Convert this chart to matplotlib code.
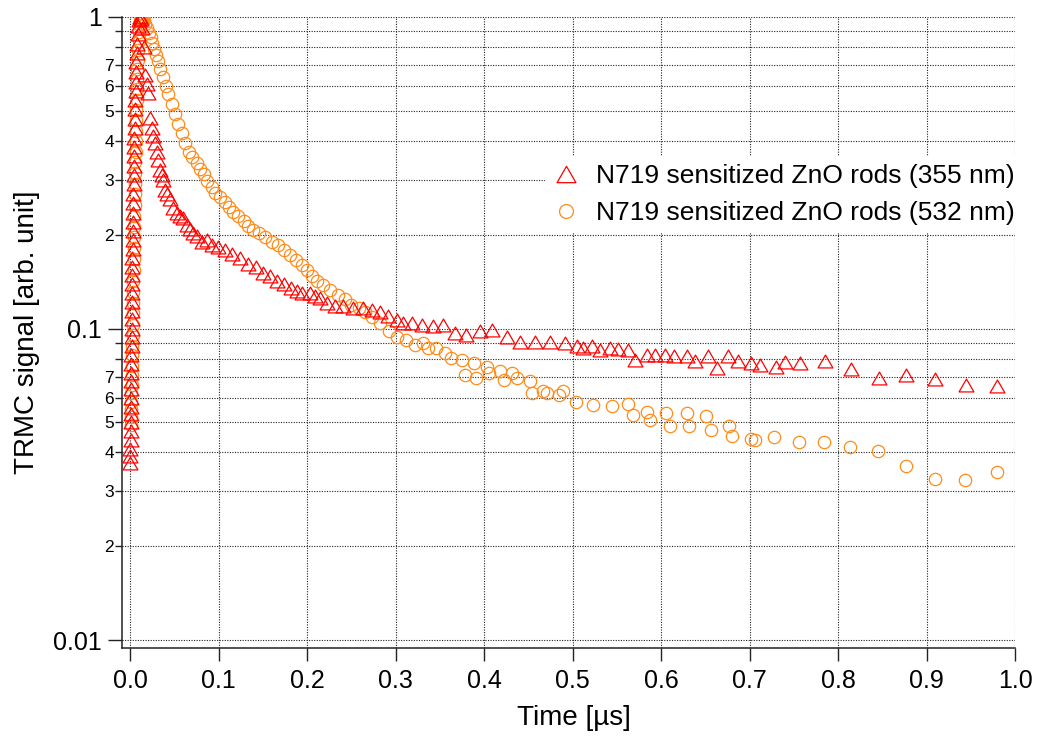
import numpy as np
import matplotlib
matplotlib.use('Agg')
import matplotlib.pyplot as plt
from matplotlib.path import Path
from matplotlib.lines import Line2D
from matplotlib.ticker import FixedLocator, FuncFormatter, NullFormatter

# ---------------- data ----------------
t_355 = [0.0000, 0.0001, 0.0002, 0.0003, 0.0004, 0.0005, 0.0006, 0.0007, 0.0008, 0.0009,
         0.0010, 0.0011, 0.0012, 0.0013, 0.0014, 0.0015, 0.0016, 0.0017, 0.0018, 0.0019,
         0.0020, 0.0021, 0.0022, 0.0023, 0.0024, 0.0025, 0.0026, 0.0027, 0.0028, 0.0030,
         0.0032, 0.0034, 0.0036, 0.0038, 0.0040, 0.0042, 0.0044, 0.0046, 0.0048, 0.0050,
         0.0053, 0.0056, 0.0059, 0.0062, 0.0065, 0.0069, 0.0073, 0.0078, 0.0084, 0.0091,
         0.0100, 0.0110, 0.0120, 0.0135, 0.0150, 0.0166, 0.0185, 0.0203, 0.0223, 0.0242,
         0.0260, 0.0279, 0.0298, 0.0316, 0.0336, 0.0355, 0.0373, 0.0392, 0.0420, 0.0449,
         0.0486, 0.0524, 0.0560, 0.0600, 0.0640, 0.0675, 0.0710, 0.0750, 0.0807, 0.0863,
         0.0920, 0.0990, 0.1070, 0.1150, 0.1240, 0.1330, 0.1420, 0.1500, 0.1580, 0.1660,
         0.1740, 0.1820, 0.1880, 0.1940, 0.2030, 0.2087, 0.2144, 0.2220, 0.2313, 0.2403,
         0.2517, 0.2630, 0.2728, 0.2821, 0.2912, 0.3010, 0.3081, 0.3180, 0.3293, 0.3420,
         0.3533, 0.3669, 0.3800, 0.3950, 0.4084, 0.4253, 0.4403, 0.4573, 0.4742, 0.4910,
         0.5044, 0.5120, 0.5214, 0.5307, 0.5420, 0.5514, 0.5627, 0.5703, 0.5835, 0.5930,
         0.6040, 0.6150, 0.6290, 0.6380, 0.6530, 0.6630, 0.6760, 0.6870, 0.7020, 0.7120,
         0.7300, 0.7400, 0.7570, 0.7850, 0.8150, 0.8460, 0.8770, 0.9100, 0.9450, 0.9800]
s_355 = [0.037, 0.039, 0.041, 0.044, 0.047, 0.050, 0.053, 0.056, 0.060, 0.064,
         0.068, 0.072, 0.077, 0.082, 0.088, 0.094, 0.100, 0.107, 0.114, 0.122,
         0.130, 0.139, 0.148, 0.158, 0.169, 0.180, 0.193, 0.206, 0.220, 0.235,
         0.252, 0.270, 0.290, 0.310, 0.333, 0.357, 0.383, 0.410, 0.440, 0.470,
         0.505, 0.540, 0.580, 0.620, 0.665, 0.715, 0.765, 0.820, 0.880, 0.935,
         0.975, 1.000, 0.985, 0.920, 0.800, 0.653, 0.610, 0.570, 0.474, 0.440,
         0.414, 0.394, 0.370, 0.348, 0.323, 0.310, 0.300, 0.279, 0.270, 0.260,
         0.244, 0.235, 0.229, 0.226, 0.215, 0.208, 0.203, 0.198, 0.190, 0.192,
         0.186, 0.182, 0.178, 0.173, 0.168, 0.161, 0.157, 0.151, 0.147, 0.142,
         0.139, 0.135, 0.132, 0.130, 0.130, 0.127, 0.1256, 0.121, 0.1177, 0.1177,
         0.1167, 0.1167, 0.1149, 0.1127, 0.1093, 0.1067, 0.1042, 0.1042, 0.1028, 0.1016,
         0.1028, 0.0967, 0.0955, 0.0979, 0.0991, 0.0939, 0.0902, 0.0902, 0.0902, 0.0898,
         0.0876, 0.0866, 0.0876, 0.0855, 0.0866, 0.0859, 0.0855, 0.0794, 0.0824, 0.0824,
         0.0824, 0.0814, 0.0818, 0.0784, 0.0818, 0.0748, 0.0818, 0.0784, 0.0777, 0.0766,
         0.0750, 0.0778, 0.0777, 0.0784, 0.0743, 0.0695, 0.0711, 0.0690, 0.0660, 0.0652]

t_532 = [0.0005, 0.0007, 0.0009, 0.0011, 0.0013, 0.0015, 0.0017, 0.0019, 0.0021, 0.0023,
         0.0025, 0.0027, 0.0029, 0.0031, 0.0033, 0.0035, 0.0037, 0.0039, 0.0041, 0.0043,
         0.0045, 0.0047, 0.0049, 0.0051, 0.0053, 0.0055, 0.0057, 0.0059, 0.0061, 0.0063,
         0.0065, 0.0068, 0.0071, 0.0074, 0.0077, 0.0080, 0.0084, 0.0088, 0.0093, 0.0099,
         0.0106, 0.0114, 0.0122, 0.0130, 0.0140, 0.0150, 0.0170, 0.0190, 0.0210, 0.0230,
         0.0250, 0.0270, 0.0290, 0.0310, 0.0340, 0.0370, 0.0400, 0.0430, 0.0470, 0.0500,
         0.0540, 0.0580, 0.0620, 0.0660, 0.0700, 0.0750, 0.0790, 0.0830, 0.0870, 0.0920,
         0.0960, 0.1010, 0.1070, 0.1110, 0.1160, 0.1220, 0.1280, 0.1330, 0.1390, 0.1450,
         0.1520, 0.1600, 0.1670, 0.1740, 0.1810, 0.1870, 0.1940, 0.2000, 0.2050, 0.2110,
         0.2180, 0.2260, 0.2350, 0.2430, 0.2500, 0.2580, 0.2650, 0.2730, 0.2820, 0.2920,
         0.3010, 0.3120, 0.3220, 0.3310, 0.3370, 0.3460, 0.3560, 0.3630, 0.3750, 0.3780,
         0.3880, 0.3910, 0.4030, 0.4060, 0.4180, 0.4220, 0.4310, 0.4370, 0.4520, 0.4540,
         0.4670, 0.4710, 0.4840, 0.4890, 0.5040, 0.5230, 0.5440, 0.5630, 0.5680, 0.5840,
         0.5870, 0.6060, 0.6100, 0.6290, 0.6320, 0.6510, 0.6560, 0.6770, 0.6800, 0.7020,
         0.7060, 0.7280, 0.7560, 0.7840, 0.8140, 0.8450, 0.8770, 0.9100, 0.9440, 0.9800]
s_532 = [0.049, 0.052, 0.055, 0.058, 0.062, 0.066, 0.071, 0.076, 0.082, 0.088,
         0.095, 0.103, 0.112, 0.121, 0.131, 0.142, 0.154, 0.167, 0.181, 0.196,
         0.212, 0.230, 0.249, 0.270, 0.292, 0.316, 0.342, 0.370, 0.400, 0.432,
         0.466, 0.503, 0.543, 0.586, 0.632, 0.680, 0.730, 0.785, 0.840, 0.895,
         0.945, 0.980, 1.000, 0.995, 0.985, 0.975, 0.950, 0.920, 0.890, 0.860,
         0.825, 0.790, 0.757, 0.720, 0.680, 0.640, 0.600, 0.565, 0.525, 0.490,
         0.455, 0.425, 0.395, 0.370, 0.355, 0.340, 0.325, 0.313, 0.298, 0.285,
         0.273, 0.264, 0.255, 0.246, 0.237, 0.229, 0.221, 0.214, 0.207, 0.202,
         0.197, 0.190, 0.185, 0.178, 0.172, 0.166, 0.160, 0.154, 0.147, 0.142,
         0.138, 0.133, 0.128, 0.124, 0.119, 0.116, 0.113, 0.109, 0.104, 0.098,
         0.094, 0.092, 0.0887, 0.0898, 0.0866, 0.0866, 0.0834, 0.0804, 0.0794, 0.0711,
         0.0775, 0.0694, 0.0755, 0.0720, 0.0728, 0.0685, 0.0720, 0.0694, 0.0676, 0.0621,
         0.0628, 0.0621, 0.0613, 0.0628, 0.0583, 0.0569, 0.0562, 0.0574, 0.0529, 0.0538,
         0.0507, 0.0535, 0.0485, 0.0535, 0.0485, 0.0522, 0.0473, 0.0485, 0.0453, 0.0442,
         0.0437, 0.0450, 0.0431, 0.0433, 0.0415, 0.0403, 0.0361, 0.0329, 0.0327, 0.0346]

label_355 = 'N719 sensitized ZnO rods (355 nm)'
label_532 = 'N719 sensitized ZnO rods (532 nm)'
x_ticks = [0.0, 0.1, 0.2, 0.3, 0.4, 0.5, 0.6, 0.7, 0.8, 0.9, 1.0]
x_tick_labels = ['0.0', '0.1', '0.2', '0.3', '0.4', '0.5', '0.6', '0.7', '0.8', '0.9', '1.0']
y_major = [0.01, 0.1, 1.0]
y_major_labels = ['0.01', '0.1', '1']
y_minor_mult = [2, 3, 4, 5, 6, 7, 8, 9]
y_minor_labelled = [2, 3, 4, 5, 6, 7]
x_label = 'Time [µs]'
y_label = 'TRMC signal [arb. unit]'

# ---------------- style ----------------
plt.rcParams['font.family'] = ['Liberation Sans', 'DejaVu Sans']
red = '#FF0000'
orange = '#FF8C1A'

W, H = 1037, 737
fig = plt.figure(figsize=(W / 100, H / 100), dpi=100)
ax = fig.add_axes([122 / W, 1 - 648.3 / H, (1015 - 122) / W, (648.3 - 17) / H])

tri = Path([(-0.5, -0.433), (0.5, -0.433), (0.0, 0.433), (-0.5, -0.433)],
           [Path.MOVETO, Path.LINETO, Path.LINETO, Path.CLOSEPOLY])

ax.plot(t_532, s_532, linestyle='none', marker='o', markersize=8.9,
        markerfacecolor='none', markeredgecolor=orange, markeredgewidth=0.9,
        zorder=3)
ax.plot(t_355, s_355, linestyle='none', marker=tri, markersize=10.7,
        markerfacecolor='none', markeredgecolor=red, markeredgewidth=0.9,
        zorder=4)

ax.set_yscale('log')
ax.set_xlim(-0.0094, 1.0)
ax.set_ylim(10 ** (-2.0266), 1.0)

ax.xaxis.set_major_locator(FixedLocator(x_ticks))
ax.set_xticklabels(x_tick_labels)
ax.yaxis.set_major_locator(FixedLocator(y_major))
ax.set_yticklabels(y_major_labels)
minor_vals = [m * 10.0 ** e for e in (-2, -1) for m in y_minor_mult]
ax.yaxis.set_minor_locator(FixedLocator(minor_vals))


def minor_fmt(v, pos):
    e = np.floor(np.log10(v) + 1e-9)
    m = int(round(v / 10 ** e))
    return str(m) if m in y_minor_labelled else ''


ax.yaxis.set_minor_formatter(FuncFormatter(minor_fmt))
ax.xaxis.set_minor_formatter(NullFormatter())

for s in ('top', 'right'):
    ax.spines[s].set_visible(False)
for s in ('left', 'bottom'):
    ax.spines[s].set_linewidth(1.1)
    ax.spines[s].set_color('#222222')

ax.tick_params(axis='x', which='major', direction='out', length=9.6, width=1.0,
               labelsize=18, pad=5, color='#222222')
ax.tick_params(axis='y', which='major', direction='out', length=9.8, width=1.0,
               labelsize=18, pad=4.5, color='#222222')
ax.tick_params(axis='y', which='minor', direction='out', length=5.0, width=1.0,
               labelsize=12.5, pad=0.8, color='#222222')

grid_kw = dict(color='#222222', linestyle=(0, (1, 1.3)), linewidth=0.8)
ax.grid(True, axis='x', which='major', **grid_kw)
ax.grid(True, axis='y', which='both', **grid_kw)
ax.set_axisbelow(True)

ax.set_xlabel(x_label, fontsize=20)
ax.set_ylabel(y_label, fontsize=20)
ax.xaxis.set_label_coords((574 - 122) / (1015 - 122), -(718 - 648.3) / (648.3 - 17))
ax.xaxis.label.set_va('center')
ax.yaxis.set_label_coords((27 - 122) / (1015 - 122), 0.5)
ax.yaxis.label.set_va('center')

h355 = Line2D([], [], linestyle='none', marker=tri, markersize=13.6,
              markerfacecolor='none', markeredgecolor=red, markeredgewidth=0.9)
h532 = Line2D([], [], linestyle='none', marker='o', markersize=10.0,
              markerfacecolor='none', markeredgecolor=orange, markeredgewidth=0.9)
leg = ax.legend([h355, h532], [label_355, label_532],
                loc='upper left', bbox_to_anchor=(545 / W, 1 - 156 / H),
                bbox_transform=fig.transFigure, fontsize=19, frameon=True,
                fancybox=False, framealpha=1.0, facecolor='white', edgecolor='none',
                handlelength=1.0, handletextpad=0.64, borderpad=0.3,
                labelspacing=0.5, borderaxespad=0.0)
leg.set_zorder(5)

fig.savefig('out.png', dpi=100)
